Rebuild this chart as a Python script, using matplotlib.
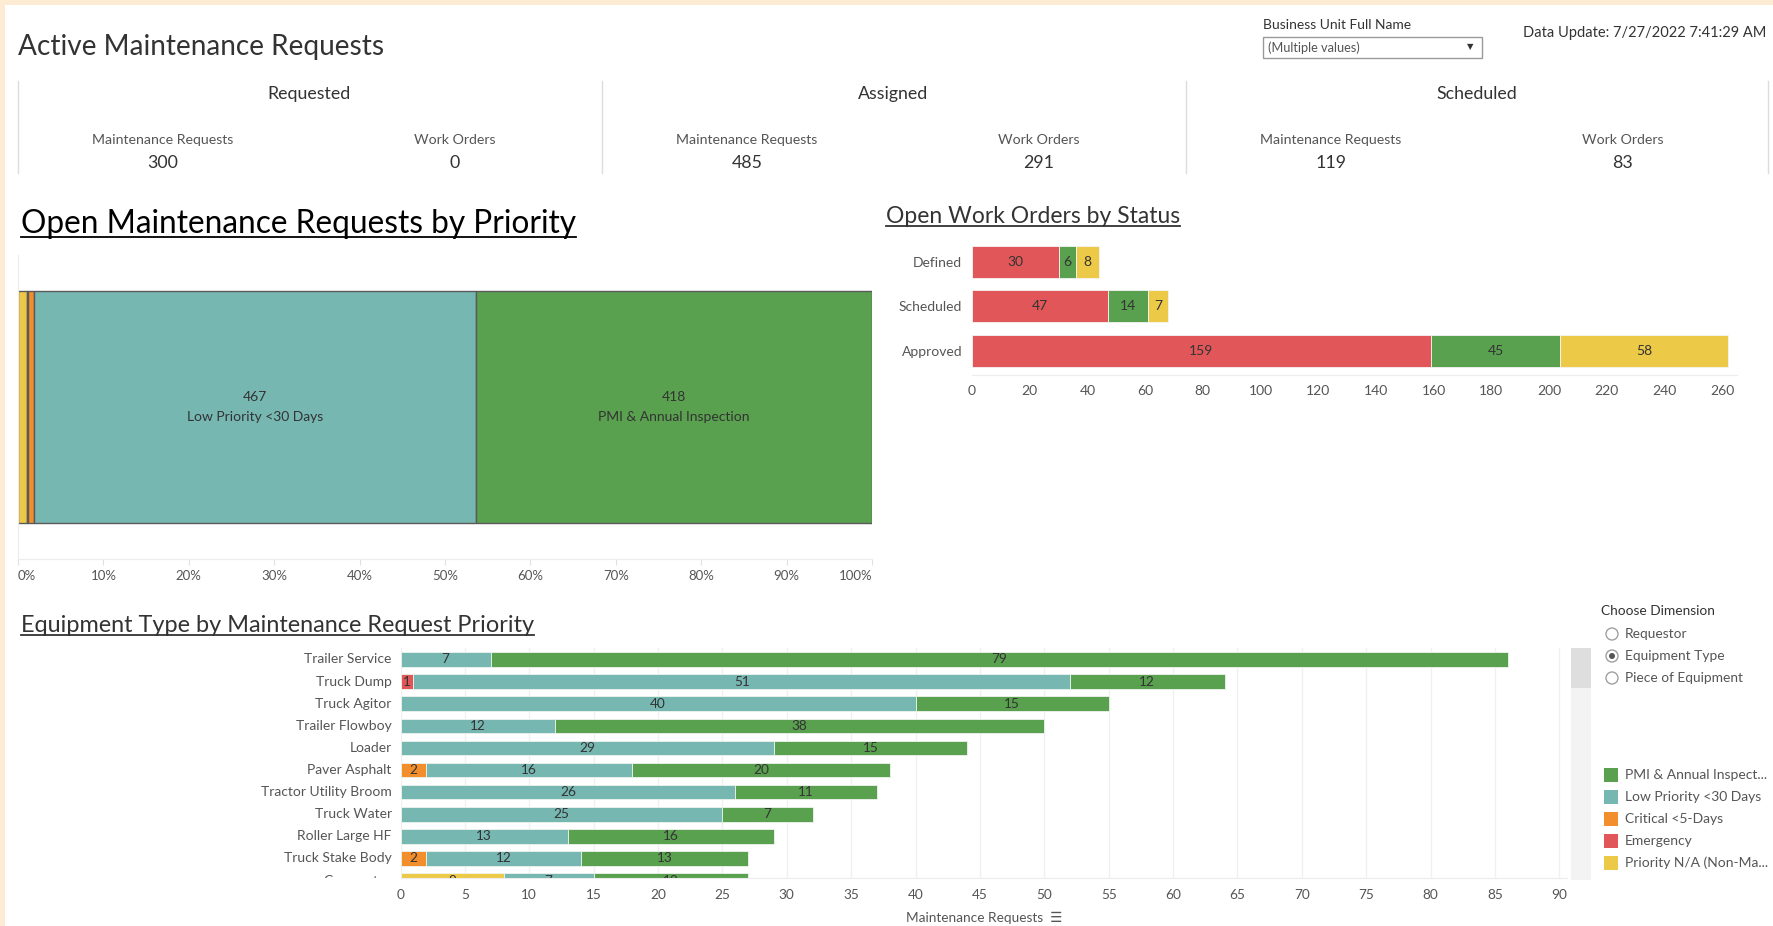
import numpy as np
import matplotlib.pyplot as plt
from matplotlib.patches import Rectangle, Circle
from matplotlib.transforms import blended_transform_factory

W, H = 1774, 926
plt.rcParams['font.family'] = ['Lato', 'DejaVu Sans']

green = '#59a14f'
teal = '#76b7b2'
orange = '#f28e2b'
red = '#e15759'
yellow = '#edc948'
dark = '#333333'
grey = '#555555'

# KPI tiles
kpi_groups = ['Requested', 'Assigned', 'Scheduled']
kpi_requests = [300, 485, 119]
kpi_work_orders = [0, 291, 83]

# open maintenance requests by priority
priority_names = ['Priority N/A (Non-Maintenance)', 'Emergency', 'Critical <5-Days',
                  'Low Priority <30 Days', 'PMI & Annual Inspection']
priority_counts = [10, 1, 6, 467, 418]
priority_colors = [yellow, red, orange, teal, green]
pct_ticks = [0, 10, 20, 30, 40, 50, 60, 70, 80, 90, 100]

# open work orders by status
wo_status = ['Defined', 'Scheduled', 'Approved']
wo_red = [30, 47, 159]
wo_green = [6, 14, 45]
wo_yellow = [8, 7, 58]

# equipment type by priority
equip_types = ['Trailer Service', 'Truck Dump', 'Truck Agitor', 'Trailer Flowboy', 'Loader',
               'Paver Asphalt', 'Tractor Utility Broom', 'Truck Water', 'Roller Large HF',
               'Truck Stake Body', 'Compactor']
eq_na = [0, 0, 0, 0, 0, 0, 0, 0, 0, 0, 8]
eq_emergency = [0, 1, 0, 0, 0, 0, 0, 0, 0, 0, 0]
eq_critical = [0, 0, 0, 0, 0, 2, 0, 0, 0, 2, 0]
eq_low = [7, 51, 40, 12, 29, 16, 26, 25, 13, 12, 7]
eq_pmi = [79, 12, 15, 38, 15, 20, 11, 7, 16, 13, 12]

legend_names = ['PMI & Annual Inspect...', 'Low Priority <30 Days', 'Critical <5-Days',
                'Emergency', 'Priority N/A (Non-Ma...']
legend_colors = [green, teal, orange, red, yellow]
radio_options = ['Requestor', 'Equipment Type', 'Piece of Equipment']


def box(l, t, r, b):
    # pixel box (top-left origin) -> figure fraction rect
    return [l / W, 1 - b / H, (r - l) / W, (b - t) / H]


fig = plt.figure(figsize=(W / 100, H / 100), dpi=100, facecolor='white')

# overlay in pixel coordinates for the dashboard furniture
ov = fig.add_axes([0, 0, 1, 1])
ov.set_xlim(0, W)
ov.set_ylim(H, 0)
ov.axis('off')
ov.add_patch(Rectangle((0, 0), W, 5, color='#fdebd3', lw=0))
ov.add_patch(Rectangle((0, 0), 5, H, color='#fdebd3', lw=0))

ov.text(18, 55, 'Active Maintenance Requests', fontsize=20.2, color=dark, va='baseline')

# filter + data update
ov.text(1263, 25, 'Business Unit Full Name', fontsize=10, color=dark, va='center')
ov.add_patch(Rectangle((1263, 37), 219, 21, fc='white', ec='#9a9a9a', lw=1))
ov.text(1268, 48, '(Multiple values)', fontsize=9.2, color=grey, va='center')
ov.text(1470, 47, '▼', fontsize=6, color=dark, va='center', ha='center',
        family=['DejaVu Sans'])
ov.text(1766, 33, 'Data Update: 7/27/2022 7:41:29 AM', fontsize=10.5, color=dark,
        va='center', ha='right')

# KPI tiles
for x in [18, 602, 1186, 1768]:
    ov.plot([x, x], [81, 173], color='#dcdcdc', lw=1)
for i, g in enumerate(kpi_groups):
    x0 = 18 + i * 584
    ov.text(x0 + 291, 94, g, fontsize=12.8, color=dark, ha='center', va='center')
    ov.text(x0 + 145, 140, 'Maintenance Requests', fontsize=10.2, color=grey,
            ha='center', va='center')
    ov.text(x0 + 145, 163, str(kpi_requests[i]), fontsize=12.8, color=dark,
            ha='center', va='center')
    ov.text(x0 + 437, 140, 'Work Orders', fontsize=10.2, color=grey,
            ha='center', va='center')
    ov.text(x0 + 437, 163, str(kpi_work_orders[i]), fontsize=12.8, color=dark,
            ha='center', va='center')

# section titles (underlined below)
titles = [
    ov.text(21, 233, 'Open Maintenance Requests by Priority', fontsize=22.8, color='black',
            va='baseline'),
    ov.text(886, 223, 'Open Work Orders by Status', fontsize=16.5, color=dark, va='baseline'),
    ov.text(21, 632, 'Equipment Type by Maintenance Request Priority', fontsize=16.9,
            color=dark, va='baseline'),
]
under_off = [3.5, 3, 2.5]

# ---- priority 100% bar
ax1 = fig.add_axes(box(18, 255, 872, 559))
ax1.set_facecolor('none')
total = sum(priority_counts)
shares = [c / total for c in priority_counts]
left = 0
for share, count, name, col in zip(shares, priority_counts, priority_names, priority_colors):
    ax1.barh(0, share, left=left, height=0.766, color=col, edgecolor='#5a5a5a', lw=1)
    if count > 100:
        cx = left + share / 2
        ax1.annotate(str(count), (cx, 0), xytext=(0, 7), textcoords='offset points',
                     ha='center', va='center', fontsize=10, color=dark)
        ax1.annotate(name, (cx, 0), xytext=(0, -7), textcoords='offset points',
                     ha='center', va='center', fontsize=10, color=dark)
    left += share
ax1.set_xlim(0, 1)
ax1.set_ylim(-0.5, 0.5)
ax1.set_yticks([])
ax1.set_xticks([p / 100 for p in pct_ticks])
ax1.set_xticklabels([f'{p}%' for p in pct_ticks], fontsize=9.5, color=grey)
ax1.get_xticklabels()[0].set_ha('left')
ax1.get_xticklabels()[-1].set_ha('right')
ax1.tick_params(axis='x', length=4, color='#e0e0e0', pad=4)
for s in ['top', 'right']:
    ax1.spines[s].set_visible(False)
ax1.spines['bottom'].set_color('#ececec')
ax1.spines['left'].set_color('#ececec')

# ---- work orders by status
ax2 = fig.add_axes(box(972, 240, 1737, 375))
ax2.set_facecolor('none')
y2 = np.arange(len(wo_status))
lefts = np.zeros(len(wo_status))
for vals, col in [(wo_red, red), (wo_green, green), (wo_yellow, yellow)]:
    ax2.barh(y2, vals, left=lefts, height=0.72, color=col, edgecolor='#f4f4f4', lw=0.6)
    for yi, v, l in zip(y2, vals, lefts):
        ax2.text(l + v / 2, yi, str(v), ha='center', va='center', fontsize=10, color=dark)
    lefts = lefts + np.array(vals)
ax2.set_xlim(0, 265.2)
ax2.set_ylim(2.54, -0.494)
ax2.set_yticks(y2)
ax2.set_yticklabels(wo_status, fontsize=10, color=grey)
ax2.set_xticks(range(0, 261, 20))
ax2.tick_params(axis='x', labelsize=10, labelcolor=grey, length=0, pad=7)
ax2.tick_params(axis='y', length=0, pad=7)
for s in ['top', 'right', 'left']:
    ax2.spines[s].set_visible(False)
ax2.spines['bottom'].set_color('#ececec')

# ---- equipment type by priority
ax3 = fig.add_axes(box(400.5, 648, 1567, 877.5))
ax3.set_facecolor('none')
y3 = np.arange(len(equip_types))
lefts = np.zeros(len(equip_types))
for vals, col in [(eq_na, yellow), (eq_emergency, red), (eq_critical, orange),
                  (eq_low, teal), (eq_pmi, green)]:
    ax3.barh(y3, vals, left=lefts, height=0.66, color=col, edgecolor='#eef4ee', lw=0.6,
             zorder=2)
    for yi, v, l in zip(y3, vals, lefts):
        if v > 0:
            ax3.text(l + v / 2, yi, str(v), ha='center', va='center', fontsize=9.8,
                     color=dark, clip_on=True, zorder=3)
    lefts = lefts + np.array(vals)
ax3.set_xlim(0, 90.6)
ax3.set_ylim(9.86, -0.52)
ax3.set_xticks(range(0, 91, 5))
ax3.set_yticks([])
ax3.grid(axis='x', color='#f0f0f0', lw=1, zorder=0)
ax3.tick_params(axis='x', labelsize=9.8, labelcolor=grey, length=0, pad=8)
for s in ['top', 'right', 'left']:
    ax3.spines[s].set_visible(False)
ax3.spines['bottom'].set_color('#ececec')
lab_tr = blended_transform_factory(ax3.transAxes, ax3.transData)
for yi, name in zip(y3, equip_types):
    t = ax3.text(-0.0075, yi, name, transform=lab_tr, ha='right', va='center',
                 fontsize=10, color=grey, clip_on=False)
    if yi == len(equip_types) - 1:
        t.set_clip_on(True)
        t.set_clip_path(Rectangle((0, 0), W, 877.5, transform=ov.transData))
ov.text(984, 918, 'Maintenance Requests  \u2630', fontsize=9.8, color=grey, ha='center',
        va='center', family=['Lato', 'DejaVu Sans'])

# scrollbar
ov.add_patch(Rectangle((1571, 648), 20, 232, fc='#f3f3f3', lw=0))
ov.add_patch(Rectangle((1571, 648), 20, 40, fc='#dedede', lw=0))

# dimension chooser
ov.text(1601, 611, 'Choose Dimension', fontsize=9.9, color=dark, va='center')
for i, opt in enumerate(radio_options):
    yy = 634 + i * 22
    ov.add_patch(Circle((1612, yy), 6, fc='white', ec='#a0a0a0', lw=1))
    if i == 1:
        ov.add_patch(Circle((1612, yy), 3, fc='#555555', lw=0))
    ov.text(1625, yy, opt, fontsize=9.9, color=grey, va='center')

# colour legend
for i, (name, col) in enumerate(zip(legend_names, legend_colors)):
    yy = 775 + i * 22
    ov.add_patch(Rectangle((1604, yy - 7), 14, 14, fc=col, lw=0))
    ov.text(1625, yy, name, fontsize=10, color=grey, va='center')

# underline the section titles
fig.canvas.draw()
rend = fig.canvas.get_renderer()
for t, off in zip(titles, under_off):
    bb = t.get_window_extent(rend)
    xb, yb = t.get_position()
    ov.plot([bb.x0, bb.x1], [yb + off, yb + off], color=t.get_color(), lw=1.3)

fig.savefig('out.png', dpi=100, facecolor='white')
